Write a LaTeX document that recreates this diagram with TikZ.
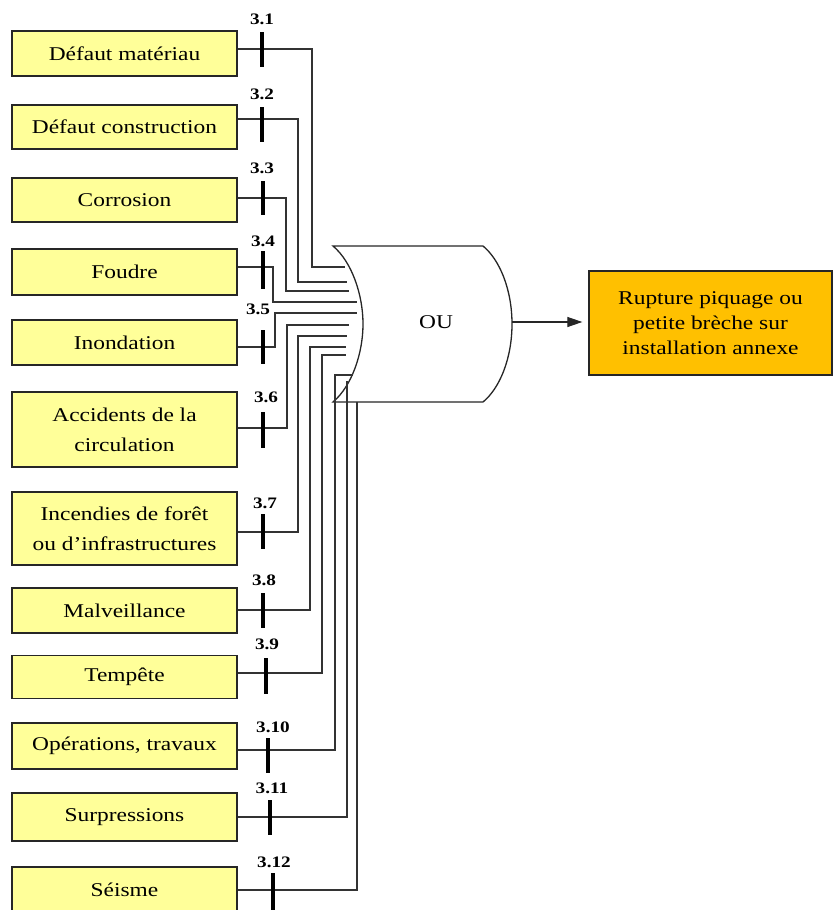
\documentclass[tikz,border=0pt]{standalone}
\usepackage{fontspec}
\setmainfont{Liberation Serif}[FakeStretch=1.2]
\usetikzlibrary{arrows.meta}
\definecolor{yfill}{HTML}{FFFF99}
\definecolor{ofill}{HTML}{FFC000}
\tikzset{
  cause/.style={draw=black!85, line width=1.3pt, fill=yfill, minimum width=225pt, align=center,
    font=\fontsize{19.5}{30}\selectfont, inner sep=0pt},
  result/.style={draw=black!85, line width=1.3pt, fill=ofill, minimum width=243pt, minimum height=104pt,
    align=center, font=\fontsize{19.5}{25}\selectfont, inner sep=0pt},
  wire/.style={draw=black!80, line width=1.1pt},
  tick/.style={draw=black, line width=3.2pt},
  num/.style={font=\fontsize{16}{16}\bfseries\selectfont, inner sep=0pt},
  gate/.style={draw=black!85, line width=1.3pt, fill=white},
}
\begin{document}
\begin{tikzpicture}[x=1pt,y=-1pt]
\clip (0,0) rectangle (835,910);
\useasboundingbox (0,0) rectangle (835,910);
% cause boxes
\node[cause, minimum height=45pt] (b1) at (124.5,53.5) {Défaut matériau};
\node[cause, minimum height=44pt] (b2) at (124.5,127) {Défaut construction};
\node[cause, minimum height=44pt] (b3) at (124.5,200) {Corrosion};
\node[cause, minimum height=46pt] (b4) at (124.5,272) {Foudre};
\node[cause, minimum height=45pt] (b5) at (124.5,342.5) {Inondation};
\node[cause, minimum height=75pt] (b6) at (124.5,429.5) {Accidents de la\\circulation};
\node[cause, minimum height=73pt] (b7) at (124.5,528.5) {Incendies de forêt\\ou d’infrastructures};
\node[cause, minimum height=45pt] (b8) at (124.5,610.5) {Malveillance};
\node[cause, minimum height=43pt] (b9) at (124.5,677) {Tempête};
\node[cause, minimum height=46pt] (b10) at (124.5,746) {Opérations, travaux};
\node[cause, minimum height=48pt] (b11) at (124.5,817) {Surpressions};
\node[cause, minimum height=46pt] (b12) at (124.5,890) {Séisme};
% gate
\draw[gate] (333,246) -- (483,246) .. controls (500,260) and (512,290) .. (512,324)
  .. controls (512,358) and (500,388) .. (483,402) -- (333,402)
  .. controls (352,386) and (363,353) .. (363,324)
  .. controls (363,295) and (352,262) .. (333,246) -- cycle;
\node[font=\fontsize{19.5}{20}\selectfont] (g) at (436,322) {OU};
\coordinate (gout) at (512,322);
% result
\node[result] (out) at (710.5,323) {Rupture piquage ou\\petite brèche sur\\installation annexe};
\draw[line width=1.1pt, draw=black!85, -{Triangle[length=15pt,width=10pt]}, shorten >=6pt] (gout) -- (out.west |- gout);
% gate inputs
\coordinate (i1) at (345,267);
\coordinate (i2) at (347,282);
\coordinate (i3) at (349,291);
\coordinate (i4) at (357,302);
\coordinate (i5) at (357,313);
\coordinate (i6) at (349,325);
\coordinate (i7) at (347,336);
\coordinate (i8) at (346,347);
\coordinate (i9) at (346,355);
\coordinate (c10) at (335,375);
\coordinate (i10) at (353,375);
\coordinate (i11) at (347,381);
\coordinate (i12) at (357,402);
% wires
\draw[wire] ([yshift=4.5pt]b1.east) -| ([xshift=-33pt]i1) -- (i1);
\draw[wire] ([yshift=8pt]b2.east) -| ([xshift=-49pt]i2) -- (i2);
\draw[wire] ([yshift=2pt]b3.east) -| ([xshift=-63pt]i3) -- (i3);
\draw[wire] ([yshift=5pt]b4.east) -| ([xshift=-84pt]i4) -- (i4);
\draw[wire] ([yshift=-4.5pt]b5.east) -| ([xshift=-82pt]i5) -- (i5);
\draw[wire] ([yshift=1.5pt]b6.east) -| ([xshift=-62pt]i6) -- (i6);
\draw[wire] ([yshift=-3.5pt]b7.east) -| ([xshift=-49pt]i7) -- (i7);
\draw[wire] ([yshift=0.5pt]b8.east) -| ([xshift=-36pt]i8) -- (i8);
\draw[wire] ([yshift=4pt]b9.east) -| ([xshift=-24pt]i9) -- (i9);
\draw[wire] ([yshift=-4pt]b10.east) -| (c10) -- (i10);
\draw[wire] (b11.east) -| (i11);
\draw[wire] (b12.east) -| (i12);
% ticks
\draw[tick] (262,32) -- (262,67);
\draw[tick] (262,107) -- (262,142);
\draw[tick] (263,181) -- (263,215);
\draw[tick] (263,251) -- (263,289);
\draw[tick] (263,330) -- (263,364);
\draw[tick] (263,412) -- (263,448);
\draw[tick] (263,514) -- (263,549);
\draw[tick] (263,593) -- (263,628);
\draw[tick] (266,658) -- (266,694);
\draw[tick] (268,738) -- (268,773);
\draw[tick] (270,800) -- (270,835);
\draw[tick] (273,873) -- (273,915);
% labels
\node[num] (l1) at (262,19) {3.1};
\node[num] (l2) at (262,94) {3.2};
\node[num] (l3) at (262,168) {3.3};
\node[num] (l4) at (263,241) {3.4};
\node[num] (l5) at (258,309) {3.5};
\node[num] (l6) at (266,397) {3.6};
\node[num] (l7) at (265,503) {3.7};
\node[num] (l8) at (264,580) {3.8};
\node[num] (l9) at (267,644) {3.9};
\node[num] (l10) at (273,727) {3.10};
\node[num] (l11) at (272,788) {3.11};
\node[num] (l12) at (274,862) {3.12};
\end{tikzpicture}
\end{document}
